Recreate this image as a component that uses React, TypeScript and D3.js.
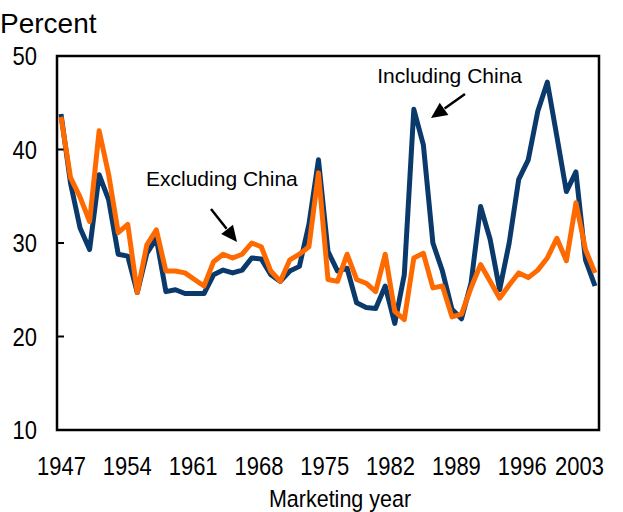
import React from "react";
import * as d3 from "d3";

const years: number[] = d3.range(1947, 2004);
const tickYears: number[] = [1947, 1954, 1961, 1968, 1975, 1982, 1989, 1996, 2003];
const yTicks: number[] = [10, 20, 30, 40, 50];

const includingChina: number[] = [
  43.8, 36.4, 31.6, 29.3, 37.3, 34.6, 28.8, 28.6, 24.7, 28.9,
  30.5, 24.8, 25.0, 24.6, 24.6, 24.6, 26.6, 27.1, 26.8, 27.1,
  28.4, 28.3, 26.6, 25.9, 27.0, 27.5, 32.0, 38.9, 29.1, 27.0,
  27.3, 23.6, 23.1, 23.0, 25.4, 21.4, 26.6, 44.3, 40.5, 30.0,
  27.0, 22.9, 21.9, 25.7, 33.9, 30.4, 25.0, 30.0, 36.8, 38.9,
  44.1, 47.2, 41.4, 35.5, 37.6, 28.2, 25.4,
];

const excludingChina: number[] = [
  43.5, 37.0, 34.9, 32.3, 42.0, 37.3, 31.1, 32.0, 24.7, 29.8,
  31.4, 27.0, 27.0, 26.8, 26.1, 25.4, 28.0, 28.8, 28.4, 28.8,
  30.0, 29.6, 27.0, 25.9, 28.2, 28.8, 29.6, 37.5, 26.1, 25.9,
  28.8, 26.1, 25.7, 24.8, 28.8, 22.7, 21.8, 28.4, 28.9, 25.2,
  25.4, 22.1, 22.4, 25.2, 27.7, 25.9, 24.1, 25.5, 26.8, 26.3,
  27.1, 28.4, 30.5, 28.1, 34.3, 29.3, 26.8,
];

const W = 623;
const H = 512;
const plot = { left: 57, right: 599, top: 56, bottom: 430 };
const FONT = "'Liberation Sans', Arial, sans-serif";
const BLUE = "#0a3a6b";
const ORANGE = "#ff6a00";

type STProps = {
  x: number;
  y: number;
  size: number;
  sy?: number;
  anchor?: "start" | "middle" | "end";
  children: React.ReactNode;
};

function StretchText({ x, y, size, sy = 1, anchor = "start", children }: STProps) {
  return (
    <text
      transform={`translate(${x},${y}) scale(1,${sy})`}
      x={0}
      y={0}
      textAnchor={anchor}
      fontSize={size}
      fill="#000"
    >
      {children}
    </text>
  );
}

export default function App() {
  const x = d3.scaleLinear().domain([1947, 2003]).range([61, 595]);
  const xLabel = d3.scaleLinear().domain([1947, 2003]).range([61.5, 588]);
  const y = d3.scaleLinear().domain([10, 50]).range([plot.bottom, plot.top]);

  const line = d3
    .line<number>()
    .x((_, i) => x(years[i]))
    .y((d) => y(d))
    .curve(d3.curveLinear);

  const tickFont = 22;
  const tickSY = 1.15;
  const labelHalf = 24.5;
  const labelX = (yr: number) => Math.min(xLabel(yr), plot.right + 5 - labelHalf);

  const arrowHead = (x1: number, y1: number, x2: number, y2: number) => {
    const ang = Math.atan2(y2 - y1, x2 - x1);
    const len = 16;
    const wid = 7.5;
    const bx = x2 - len * Math.cos(ang);
    const by = y2 - len * Math.sin(ang);
    const px = -Math.sin(ang) * wid;
    const py = Math.cos(ang) * wid;
    return `M${x2},${y2}L${bx + px},${by + py}L${bx - px},${by - py}Z`;
  };

  const arrows = [
    { x1: 465, y1: 94, x2: 431, y2: 118 },
    { x1: 211, y1: 209, x2: 237, y2: 242 },
  ];

  return (
    <svg
      width={W}
      height={H}
      style={{ position: "absolute", left: 0, top: 0, background: "#fff" }}
      fontFamily={FONT}
    >
      <rect x={0} y={0} width={W} height={H} fill="#fff" />
      <rect
        x={plot.left}
        y={plot.top}
        width={plot.right - plot.left}
        height={plot.bottom - plot.top}
        fill="none"
        stroke="#000"
        strokeWidth={2.5}
      />
      {yTicks.map((t) => (
        <g key={t}>
          {t !== 10 && t !== 50 && (
            <line x1={plot.left} x2={plot.left + 7} y1={y(t)} y2={y(t)} stroke="#000" strokeWidth={2} />
          )}
          <StretchText x={37} y={y(t) + 9} size={tickFont} sy={tickSY} anchor="end">
            {t}
          </StretchText>
        </g>
      ))}
      {tickYears.map((t) => (
        <StretchText key={t} x={labelX(t)} y={475} size={tickFont} sy={tickSY} anchor="middle">
          {t}
        </StretchText>
      ))}
      <StretchText x={340} y={507} size={21.5} sy={1.12} anchor="middle">
        Marketing year
      </StretchText>
      <StretchText x={0} y={33} size={28} sy={1.0}>
        Percent
      </StretchText>
      <path d={line(includingChina) || ""} fill="none" stroke={BLUE} strokeWidth={5} strokeLinejoin="round" />
      <path d={line(excludingChina) || ""} fill="none" stroke={ORANGE} strokeWidth={5} strokeLinejoin="round" />
      <StretchText x={522} y={83} size={21} anchor="end">
        Including China
      </StretchText>
      <StretchText x={146} y={186} size={21}>
        Excluding China
      </StretchText>
      {arrows.map((a, i) => (
        <g key={i}>
          <line
            x1={a.x1}
            y1={a.y1}
            x2={a.x1 + (a.x2 - a.x1) * 0.6}
            y2={a.y1 + (a.y2 - a.y1) * 0.6}
            stroke="#000"
            strokeWidth={2.5}
          />
          <path d={arrowHead(a.x1, a.y1, a.x2, a.y2)} fill="#000" />
        </g>
      ))}
    </svg>
  );
}
